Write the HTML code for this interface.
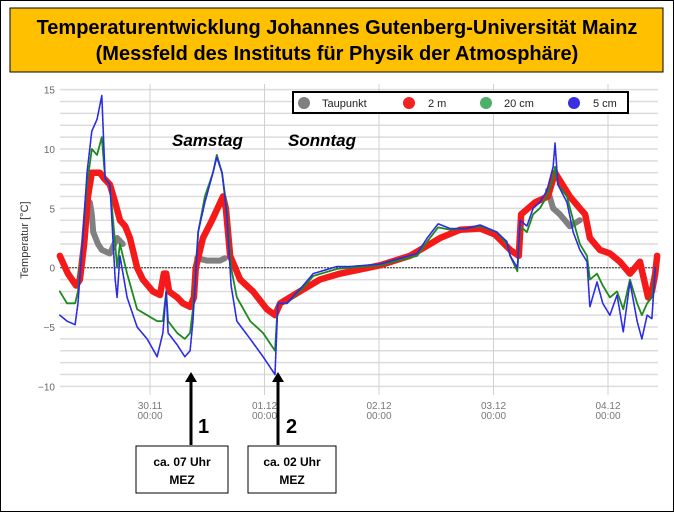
<!DOCTYPE html>
<html><head><meta charset="utf-8"><style>
body{margin:0;background:#fff;}
svg{display:block;font-family:"Liberation Sans",sans-serif;}
</style></head><body>
<svg id="c" width="674" height="512" viewBox="0 0 674 512">
<rect x="0.5" y="0.5" width="673" height="511" fill="#fff" stroke="#000"/>
<rect x="10" y="8" width="653" height="64" fill="#FFC000" stroke="#000"/>
<text x="337" y="34" text-anchor="middle" font-size="20" font-weight="bold">Temperaturentwicklung Johannes Gutenberg-Universität Mainz</text>
<text x="337" y="60" text-anchor="middle" font-size="20" font-weight="bold">(Messfeld des Instituts für Physik der Atmosphäre)</text>
<g id="grid"></g>
<g id="series"></g>
<g id="axes"></g>
<text x="28" y="240" transform="rotate(-90 28 240)" text-anchor="middle" font-size="11" fill="#333">Temperatur [°C]</text>
<g>
<rect x="293" y="92" width="335" height="21" fill="#fff" stroke="#000" stroke-width="2"/>
<circle cx="304" cy="103" r="6" fill="#808080"/><text x="322" y="107" font-size="11" fill="#222">Taupunkt</text>
<circle cx="409" cy="103" r="6" fill="#f52020"/><text x="428" y="107" font-size="11" fill="#222">2 m</text>
<circle cx="486" cy="103" r="6" fill="#4caf6a"/><text x="504" y="107" font-size="11" fill="#222">20 cm</text>
<circle cx="574" cy="103" r="6" fill="#3a2ee0"/><text x="593" y="107" font-size="11" fill="#222">5 cm</text>
</g>
<text x="172" y="146" font-size="17" font-weight="bold" font-style="italic">Samstag</text>
<text x="288" y="146" font-size="17" font-weight="bold" font-style="italic">Sonntag</text>
<g>
<line x1="191" y1="445" x2="191" y2="380" stroke="#000" stroke-width="3"/>
<polygon points="185,382 197,382 191,372" fill="#000"/>
<text x="198" y="433" font-size="20" font-weight="bold">1</text>
<rect x="136" y="446" width="92" height="47" fill="#fff" stroke="#000"/>
<text x="182" y="466" text-anchor="middle" font-size="12" font-weight="bold">ca. 07 Uhr</text>
<text x="182" y="484" text-anchor="middle" font-size="12" font-weight="bold">MEZ</text>
</g>
<g>
<line x1="278" y1="445" x2="278" y2="380" stroke="#000" stroke-width="3"/>
<polygon points="272,382 284,382 278,372" fill="#000"/>
<text x="286" y="433" font-size="20" font-weight="bold">2</text>
<rect x="248" y="446" width="88" height="47" fill="#fff" stroke="#000"/>
<text x="292" y="466" text-anchor="middle" font-size="12" font-weight="bold">ca. 02 Uhr</text>
<text x="292" y="484" text-anchor="middle" font-size="12" font-weight="bold">MEZ</text>
</g>
</svg>
<script>
// time values: hours since 30.11 00:00
const hours2m = [-18.9,-17.2,-15.5,-14.7,-13.8,-13.0,-12.2,-10.5,-9.6,-8.4,-7.3,-6.3,-5.2,-4.2,-2.7,-1.5,0.6,2.1,2.9,3.4,4.0,5.7,6.9,8.4,9.2,9.6,11.1,13.0,15.3,15.9,16.8,18.9,21.6,24.5,26.2,27.3,31.4,35.6,39.8,48.2,54.5,56.6,60.8,65.0,69.2,72.3,75.5,77.3,77.8,80.7,83.4,84.9,88.0,90.1,91.2,92.2,94.3,96.4,98.5,100.6,102.7,104.4,105.2,105.9,106.3];
const temp2m = [1,-0.5,-1.5,-1,2,6,8,8,7.5,7,5.5,4,3.5,2.5,0,-1,-2,-2.3,-0.5,-0.5,-2,-2.5,-3,-3.3,-2.5,0,2.5,4,6,5,1,-1,-2,-3.5,-4,-3,-2,-1,-0.5,0.2,1,1.5,2.5,3.2,3.3,2.8,1.5,1,4.5,5.5,6,8,6,5,4.5,2.5,1.5,1.2,0.5,-0.5,0.5,-2.5,-2,-0.5,1];
const hoursSoil = [-18.9,-17.4,-15.7,-15.1,-14.0,-13.2,-12.2,-11.1,-10.1,-9.4,-8.4,-7.3,-6.9,-6.3,-4.8,-2.7,-0.6,1.5,2.7,3.4,3.8,5.7,7.3,8.4,9.0,10.1,11.5,13.2,14.0,15.1,16.1,17.0,18.2,21.0,23.7,26.2,26.8,28.7,32.1,34.2,39.2,41.9,48.2,56.0,58.1,60.4,62.9,66.4,69.2,72.7,74.8,75.5,77.0,77.6,79.0,80.3,81.7,83.2,84.5,84.9,85.5,87.4,88.7,90.1,91.6,92.2,93.7,94.9,96.4,97.9,99.2,100.6,102.1,103.1,104.2,105.2,105.9];
const temp20 = [-2,-3,-3,-2,3,7,10,9.5,11,7.5,7,2,0,2,-0.5,-3.5,-4,-4.5,-4.5,-2,-4.5,-5.5,-6,-5.5,-3.5,3,6,8,9.5,8,5,0,-2.5,-4.5,-5.5,-7,-3,-3,-1.7,-0.7,-0.1,0,0.2,1,2.2,3.4,3.2,3.3,3.5,3,2,1,-0.3,3.5,3,4.5,5,6,7.5,8.5,7,6,4,2,1,-1,-0.5,-1.5,-2.5,-2,-3.5,-1,-3,-4,-3,-2.5,0];
const temp5 = [-4,-4.5,-4.8,-3,3,8,11.5,12.5,14.5,7.5,7,-1,-2.5,1,-2.5,-5,-6,-7.5,-5.5,-2,-5.5,-6.5,-7.5,-7,-4.5,3,5.5,8,9.3,8,4.5,-1.5,-4.5,-6,-7.5,-9,-3,-3,-1.5,-0.5,0.1,0.1,0.3,1.2,2.5,3.7,3.3,3.3,3.6,3,2.2,1,0,4,3.5,5,5.5,6.5,8.5,10.5,7,5.5,3,1.5,0.5,-3.3,-1.2,-3,-4,-2.3,-5.4,-1.2,-4.5,-6,-4,-4.3,0];
const hoursDew = [-12.6,-12.2,-11.9,-10.9,-10.1,-8.4,-6.9,-5.7];
const tempDew = [5.5,4.5,3,2,1.5,1.2,2.5,2];
const hoursDew2 = [9.9,11.9,14.7,15.7];
const tempDew2 = [0.8,0.6,0.6,0.8];
const hoursDew3 = [83.4,84.5,85.9,88.0,90.1];
const tempDew3 = [6.5,5,4.5,3.5,4];
const yTicks = [-10,-5,0,5,10,15];
const dayTicks = [0,24,48,72,96];
const dayLabels = ["30.11","01.12","02.12","03.12","04.12"];

const NS="http://www.w3.org/2000/svg";
const L=60,R=658,T=84,B=395;
const xs=h=>150+h*(114.5/24);
const ys=v=>267.7-v*11.87;
function mk(tag,attrs,parent){const e=document.createElementNS(NS,tag);for(const k in attrs)e.setAttribute(k,attrs[k]);parent.appendChild(e);return e;}
const grid=document.getElementById('grid'),ser=document.getElementById('series'),ax=document.getElementById('axes');
for(let v=-10;v<=16;v++){
  if(ys(v)<T||ys(v)>B)continue;
  const ln=mk('line',{x1:L,x2:R,y1:ys(v),y2:ys(v),stroke:'#dcdcdc','stroke-width':1.5},grid);
  
  
}
dayTicks.forEach((d,i)=>{
  const ln=mk('line',{x1:xs(d),x2:xs(d),y1:T,y2:B,stroke:'#d0d0d0','stroke-width':1},grid);
  
  
  const t1=mk('text',{x:xs(d),y:409,'text-anchor':'middle','font-size':10,fill:'#777'},ax);
  t1.textContent=dayLabels[i];
  
  
  const t2=mk('text',{x:xs(d),y:419,'text-anchor':'middle','font-size':10,fill:'#777'},ax);
  t2.textContent='00:00';
  
  
});
yTicks.forEach(v=>{
  const t=mk('text',{x:55,y:ys(v)+4,'text-anchor':'end','font-size':10,fill:'#666'},ax);
  t.textContent=v<0?'\u2212'+Math.abs(v):String(v);
  
  
});
const zl=mk('line',{x1:L,x2:R,y1:ys(0),y2:ys(0),stroke:'#333','stroke-width':1,'stroke-dasharray':'2,1'},grid);


function line(hs,vs,color,w,name,dash){
  const p=mk('polyline',{points:hs.map((h,i)=>xs(h)+','+ys(vs[i])).join(' '),fill:'none',stroke:color,'stroke-width':w,'stroke-linejoin':'round','stroke-linecap':'round'},ser);
  if(dash)p.setAttribute('stroke-dasharray',dash);
  
  
}
line(hoursDew,tempDew,'#808080',6,'series-taupunkt');
line(hoursDew2,tempDew2,'#808080',6,'series-taupunkt');
line(hoursDew3,tempDew3,'#808080',6,'series-taupunkt');
line(hours2m,temp2m,'#f51a1a',6.5,'series-2m');
line(hoursSoil,temp20,'#1e8a1e',1.8,'series-20cm');
line(hoursSoil,temp5,'#2a2ae8',1.6,'series-5cm','3,1');
</script>
</body></html>
